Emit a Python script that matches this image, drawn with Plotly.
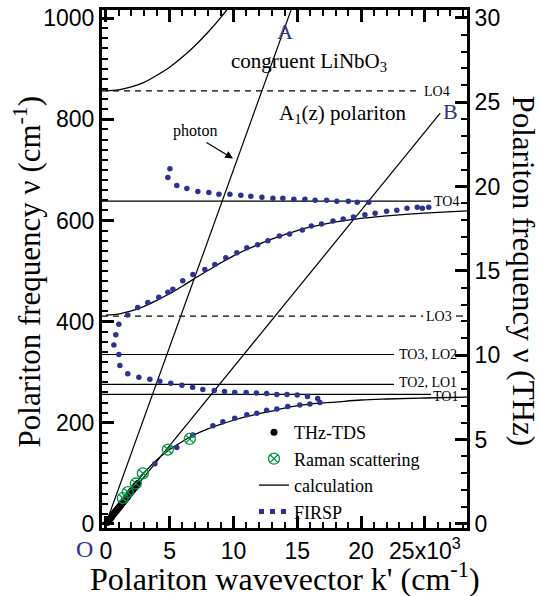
import plotly.graph_objects as go

# ---------------- data ----------------
photon_A_k = [0, 15.0]
photon_A_nu = [0, 1050]
photon_B_k = [0, 26.2]
photon_B_nu = [0, 812]

phonon_names = ["LO4", "TO4", "LO3", "TO3, LO2", "TO2, LO1", "TO1"]
phonon_nu = [856, 638, 411, 335, 276, 256]
phonon_dashed = [True, False, True, False, False, False]

calc_up_k = [0, 1, 2, 3, 4, 5, 6, 7, 8, 9, 10]
calc_up_nu = [856, 858, 864, 873, 887, 903, 923, 946, 972, 1001, 1033]

calc_mid_k = [0, 1, 2, 3, 4, 5, 6, 7, 8, 9, 10, 11, 12, 13, 14, 15, 16, 17, 18, 20, 22, 24, 26, 28.5]
calc_mid_nu = [413, 415, 421, 430, 442, 455, 470, 486, 501, 516, 530, 542, 553, 563, 572, 580,
               587, 592, 597, 604, 609, 613, 616, 619]

calc_low_k = [0, 1, 2, 3, 4, 5, 6, 7, 8, 9, 10, 11, 12, 13, 14, 15, 16, 18, 20, 22, 25, 28.5]
calc_low_nu = [0, 35, 69, 101, 127, 147, 163, 177, 188, 197, 205, 212, 218, 223, 229, 234,
               237, 241, 245, 247, 249, 251]

thz_k = [0.10, 0.18, 0.26, 0.34, 0.42, 0.50, 0.58, 0.66, 0.74, 0.82, 0.90, 0.98, 1.06, 1.14,
         1.22, 1.30, 1.38, 1.46, 1.54, 1.62, 1.70, 1.78, 1.86, 1.94, 2.02, 2.10, 2.18, 2.26,
         2.34, 2.42, 2.50]
thz_nu = [3, 6, 8, 11, 13, 16, 19, 21, 24, 26, 29, 31, 34, 36, 39, 42, 44, 47, 49, 52, 54, 57,
          60, 62, 65, 67, 70, 72, 75, 77, 80]

raman_k = [1.33, 1.72, 2.35, 2.90, 4.86, 6.58]
raman_nu = [51, 63, 80, 100, 147, 168]

firsp_up_k = [5.02, 4.86, 5.56, 6.35, 7.21, 8.07, 8.86, 9.72, 10.58, 11.36, 12.23, 13.09, 13.87,
              14.73, 15.6, 16.4, 17.3, 18.1, 19.0, 19.7, 20.6]
firsp_up_nu = [702, 685, 669, 663, 657, 655, 652, 652, 650, 648, 646, 644, 644, 642, 642, 640,
               640, 638, 638, 636, 636]

firsp_mid_k = [16.6, 15.8, 15.0, 14.2, 13.4, 12.6, 11.8, 11.0, 10.1, 9.3, 8.5, 7.6, 6.8, 5.96,
               5.09, 4.23, 3.45, 2.59, 1.72, 1.10, 1.02, 0.63, 0.78, 1.02, 1.72, 2.5, 3.29, 4.15,
               4.86, 5.25, 6.03, 6.82, 7.76, 8.54, 9.4, 10.27, 11.05, 11.9, 12.7, 13.6, 14.4,
               15.4, 16.1, 16.9, 17.8, 18.6, 19.4, 20.3, 21.1, 22.0, 22.8, 23.6, 24.4, 24.8, 25.3]
firsp_mid_nu = [248, 252, 255, 256, 256, 258, 259, 260, 260, 262, 264, 266, 270, 274, 278, 282,
                286, 290, 297, 313, 335, 354, 374, 395, 413, 428, 438, 448, 458, 464, 481, 493,
                503, 513, 526, 536, 546, 552, 560, 569, 573, 581, 589, 593, 599, 603, 607, 611,
                614, 618, 620, 624, 626, 624, 626]

firsp_low_k = [3.84, 5.56, 6.82, 8.39, 9.17, 10.1, 11.05, 11.83, 12.6, 13.4, 14.26, 15.2, 15.99, 16.77]
firsp_low_nu = [119, 151, 176, 194, 202, 209, 216, 219, 225, 227, 232, 235, 237, 240]

x_label_alias = {25: "25x10<sup>3</sup>"}
CM_PER_THZ = 33.356

# ---------------- style ----------------
W, H = 540, 596
L, R, T, B = 102, 73, 5, 68
PW, PH = W - L - R, H - T - B
SERIF = "Liberation Serif"
SANS = "Liberation Sans"
BLUE = "#2E3192"
GREEN = "#009245"
Y_RANGE = [-8, 1016]


def px(xp):
    return (xp - L) / PW


def py(yp):
    return 1 - (yp - T) / PH


fig = go.Figure()

for kk, nn in ((photon_A_k, photon_A_nu), (photon_B_k, photon_B_nu)):
    fig.add_trace(go.Scatter(x=kk, y=nn, mode="lines", line=dict(color="black", width=1.2),
                             showlegend=False, hoverinfo="skip"))

for i, (kk, nn) in enumerate(((calc_low_k, calc_low_nu), (calc_mid_k, calc_mid_nu),
                              (calc_up_k, calc_up_nu))):
    fig.add_trace(go.Scatter(x=kk, y=nn, mode="lines", line=dict(color="black", width=1.3, shape="spline"),
                             name="calculation", showlegend=(i == 0), legendrank=3))

for kk, nn in ((firsp_up_k, firsp_up_nu), (firsp_mid_k, firsp_mid_nu), (firsp_low_k, firsp_low_nu)):
    fig.add_trace(go.Scatter(x=kk, y=nn, mode="markers", marker=dict(color=BLUE, size=5.5),
                             showlegend=False))
fig.add_trace(go.Scatter(x=[None], y=[None], mode="lines", name="FIRSP", legendrank=4,
                         line=dict(color=BLUE, width=5, dash="5px,6px")))

fig.add_trace(go.Scatter(x=thz_k, y=thz_nu, mode="markers", name="THz-TDS", legendrank=1,
                         marker=dict(color="black", size=7)))
fig.add_trace(go.Scatter(x=raman_k, y=raman_nu, mode="markers", name="Raman scattering", legendrank=2,
                         marker=dict(color=GREEN, size=11, symbol="circle-x-open", line=dict(width=1.3, color=GREEN))))

fig.add_trace(go.Scatter(x=[None], y=[None], yaxis="y2", showlegend=False, hoverinfo="skip"))

line_end_px = {"LO4": 421, "TO4": 431, "LO3": 423, "TO3, LO2": 394, "TO2, LO1": 394, "TO1": 431}
label_px = {"LO4": (437, 87), "TO4": (446, 198), "LO3": (439, 314), "TO3, LO2": (428, 353),
            "TO2, LO1": (428, 381), "TO1": (445, 395)}
shapes = []
for name, nu, dashed in zip(phonon_names, phonon_nu, phonon_dashed):
    shapes.append(dict(type="line", xref="paper", x0=0, x1=px(line_end_px[name]), yref="y", y0=nu, y1=nu,
                       layer="below",
                       line=dict(color="black", width=1.2, dash="6px,5px" if dashed else "solid")))
    if name == "LO3":
        shapes.append(dict(type="line", xref="paper", x0=px(456), x1=px(463), yref="y", y0=nu, y1=nu,
                           layer="below", line=dict(color="black", width=1.2)))

ann = []
for name in phonon_names:
    xp, yp = label_px[name]
    ann.append(dict(text=name, x=px(xp), y=py(yp), xref="paper", yref="paper", showarrow=False,
                    xanchor="center", yanchor="middle",
                    font=dict(family=SERIF, size=14, color="black")))


def text(t, xp, yp, size, color="black", angle=0, fam=SERIF):
    ann.append(dict(text=t, x=px(xp), y=py(yp), xref="paper", yref="paper", showarrow=False,
                    xanchor="center", yanchor="middle",
                    textangle=angle, font=dict(family=fam, size=size, color=color)))


text("congruent LiNbO<sub>3</sub>", 309, 57, 21)
text("A<sub>1</sub>(z) polariton", 342, 110, 21)
text("A", 285, 27, 22, BLUE)
text("B", 450, 107, 22, BLUE)
text("photon", 195, 127, 16)
text("O", 84, 549, 24, BLUE)
text("Polariton frequency ν (cm<sup>-1</sup>)", 27, 270, 31, angle=-90)
text("Polariton frequency ν (THz)", 524, 268, 31, angle=90)
text("Polariton wavevector k' (cm<sup>-1</sup>)", 285, 577, 32)

ann.append(dict(text="", x=px(233), y=py(155), xref="paper", yref="paper", showarrow=True,
                ax=-28, ay=-17, axref="pixel", ayref="pixel", arrowhead=2, arrowsize=1.3,
                arrowwidth=1.2, arrowcolor="black"))

axis_common = dict(ticks="inside", ticklen=12, tickwidth=2.5, tickcolor="black", showline=True,
                   linewidth=3, linecolor="black", showgrid=False, zeroline=False,
                   tickfont=dict(family=SANS, size=23, color="black"))


def minor(step):
    return dict(dtick=step, tick0=0, ticklen=6, tickwidth=2, ticks="inside", tickcolor="black",
                showgrid=False)


fig.update_layout(
    width=W, height=H, margin=dict(l=L, r=R, t=T, b=B, pad=0),
    paper_bgcolor="white", plot_bgcolor="white",
    xaxis=dict(range=[-0.3, 28.3], tickmode="linear", tick0=0, dtick=5, labelalias=x_label_alias,
               mirror="ticks", minor=minor(1), **axis_common),
    yaxis=dict(range=Y_RANGE, tickmode="linear", tick0=0, dtick=200, minor=minor(20), **axis_common),
    yaxis2=dict(range=[Y_RANGE[0] / CM_PER_THZ, Y_RANGE[1] / CM_PER_THZ], overlaying="y", side="right",
                anchor="x", tickmode="linear", tick0=0, dtick=5, minor=minor(1), **axis_common),
    shapes=shapes,
    annotations=ann,
    showlegend=True,
    legend=dict(x=px(254), y=py(413), xanchor="left", yanchor="top", bgcolor="rgba(0,0,0,0)",
                font=dict(family=SERIF, size=18, color="black"), traceorder="normal",
                tracegroupgap=0),
)

fig.write_html("out.html")
